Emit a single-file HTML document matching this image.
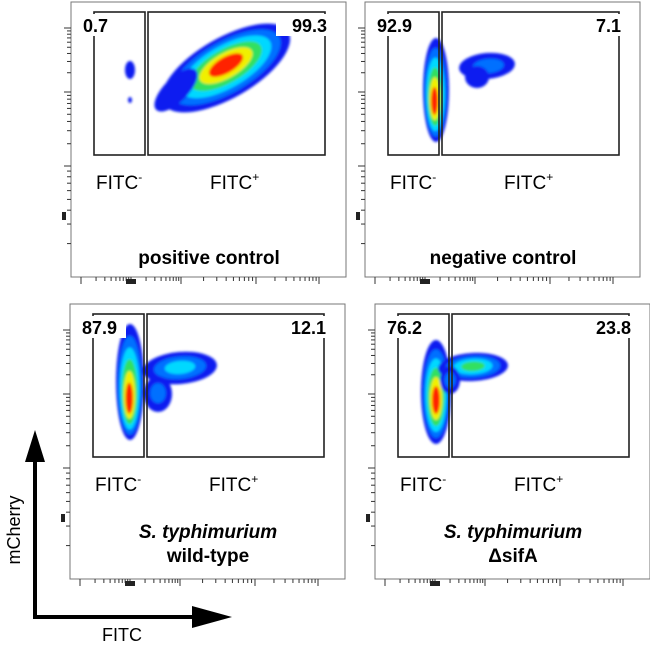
<!DOCTYPE html>
<html><head><meta charset="utf-8">
<style>
body{margin:0;background:#fff;}
svg{display:block;font-family:"Liberation Sans",Arial,sans-serif;}
</style></head>
<body>
<svg id="fig" width="650" height="646" viewBox="0 0 650 646">
<defs>
<filter id="soft" x="-30%" y="-30%" width="160%" height="160%"><feGaussianBlur stdDeviation="1.2"/></filter>
</defs>
<g id="panels"></g>
<g>
 <line x1="35" y1="450" x2="35" y2="617" stroke="#000" stroke-width="4"/>
 <polygon points="35,430 25,462 45,462" fill="#000"/>
 <line x1="33" y1="617" x2="200" y2="617" stroke="#000" stroke-width="4"/>
 <polygon points="232,617 192,606 192,628" fill="#000"/>
 <text x="20" y="530" font-size="18" text-anchor="middle" transform="rotate(-90 20 530)">mCherry</text>
 <text x="122" y="641" font-size="18" text-anchor="middle">FITC</text>
</g>
</svg>
<script>
// panel frames (layout)
const panelX0 = [71, 365, 70, 375];
const panelY0 = [2, 2, 304, 304];
const panelW = 275, panelH = 275;
// data
const panelTitles = [["positive control"], ["negative control"], ["S. typhimurium", "wild-type"], ["S. typhimurium", "\u0394sifA"]];
const negPercent = [0.7, 92.9, 87.9, 76.2];
const posPercent = [99.3, 7.1, 12.1, 23.8];
// populations per panel: [panel, cx, cy, rx, ry, rotationDeg, maxLevel] in panel units (0-275)
const popPanel = [0, 0, 0, 0, 1, 1, 1, 2, 2, 2, 3, 3, 3];
const popCx = [155, 105, 59, 59, 71, 122, 112, 60, 110, 88, 61, 98, 75];
const popCy = [66, 88, 68, 98, 88, 64, 75, 78, 64, 90, 88, 63, 76];
const popRx = [72, 28, 5, 2, 13, 28, 12, 14, 37, 14, 15, 35, 10];
const popRy = [30, 12, 9, 3, 52, 13, 11, 58, 16, 18, 52, 14, 14];
const popRot = [-30, -45, 0, 0, 0, -5, 0, 0, -5, 0, 0, -3, 0];
const popLevel = [5, 0, 0, 0, 5, 1, 0, 5, 2, 1, 5, 3, 1];
const popPeakX = [155, 105, 59, 59, 69, 125, 112, 59, 110, 88, 61, 98, 75];
const popPeakY = [62, 88, 68, 98, 103, 64, 75, 100, 63, 88, 99, 62, 76];

const jet = ["#0a1cf0", "#0070ff", "#00d8ff", "#30e060", "#f0f000", "#ff2000"];
const NS = "http://www.w3.org/2000/svg";
const root = document.getElementById("panels");
function mk(tag, attrs, parent) { const e = document.createElementNS(NS, tag); for (const k in attrs) e.setAttribute(k, attrs[k]); parent.appendChild(e); return e; }
function xs(p, v) { return panelX0[p] + v; }
function ys(p, v) { return panelY0[p] + v; }

for (let p = 0; p < 4; p++) {
  const g = mk("g", {}, root);
  
  
  const X = panelX0[p], Y = panelY0[p];
  const frame = mk("rect", { x: X, y: Y, width: panelW, height: panelH, fill: "#fff", stroke: "#777", "stroke-width": 1 }, g);
  
  
  // ticks
  const tk = mk("g", { stroke: "#333", "stroke-width": 1 }, g);
  
  
  const yMaj = [26, 90, 164, 275];
  for (let i = 0; i < yMaj.length - 1; i++) {
    mk("line", { x1: X - 7, x2: X, y1: Y + yMaj[i], y2: Y + yMaj[i] }, tk);
    for (let m = 2; m < 10; m++) { const yy = Y + yMaj[i + 1] - (yMaj[i + 1] - yMaj[i]) * Math.log10(m); mk("line", { x1: X - 4, x2: X, y1: yy, y2: yy }, tk); }
  }
  mk("rect", { x: X - 9, y: Y + 210, width: 4, height: 8, fill: "#222", stroke: "none" }, tk);
  const xMaj = [10, 60, 110, 185, 248];
  for (let i = 0; i < xMaj.length; i++) mk("line", { x1: X + xMaj[i], x2: X + xMaj[i], y1: Y + panelH, y2: Y + panelH + 7 }, tk);
  for (let i = 0; i < xMaj.length - 1; i++) for (let m = 2; m < 10; m++) { const xx = X + xMaj[i] + (xMaj[i + 1] - xMaj[i]) * Math.log10(m); mk("line", { x1: xx, x2: xx, y1: Y + panelH, y2: Y + panelH + 4 }, tk); }
  mk("rect", { x: X + 55, y: Y + panelH + 2, width: 10, height: 5, fill: "#222", stroke: "none" }, tk);
  // populations
  const pg = mk("g", { filter: "url(#soft)" }, g);
  
  
  for (let i = 0; i < popPanel.length; i++) {
    if (popPanel[i] !== p) continue;
    for (let k = 0; k <= popLevel[i]; k++) {
      const f = 1 - 0.88 * k / (popLevel[i] + 1);
      const cx = popCx[i] + (popPeakX[i] - popCx[i]) * (1 - f);
      const cy = popCy[i] + (popPeakY[i] - popCy[i]) * (1 - f);
      const e = mk("ellipse", { cx: xs(p, cx), cy: ys(p, cy), rx: popRx[i] * f, ry: popRy[i] * f, fill: jet[k], transform: `rotate(${popRot[i]} ${xs(p, cx)} ${ys(p, cy)})` }, pg);
      
      
    }
  }
  // gates
  const gt = mk("g", { fill: "none", stroke: "#222", "stroke-width": 1.6 }, g);
  
  
  const gn = mk("rect", { x: X + 23, y: Y + 10, width: 51, height: 143 }, gt);
  
  
  const gp = mk("rect", { x: X + 77, y: Y + 10, width: 177, height: 143 }, gt);
  
  
  // percent labels
  mk("rect", { x: X + 8, y: Y + 12, width: 48, height: 22, fill: "#fff" }, g);
  const t1 = mk("text", { x: X + 12, y: Y + 30, "font-size": 18, "font-weight": "bold" }, g);
  t1.textContent = negPercent[p].toFixed(1);
  
  
  mk("rect", { x: X + 205, y: Y + 12, width: 52, height: 22, fill: "#fff" }, g);
  const t2 = mk("text", { x: X + 256, y: Y + 30, "font-size": 18, "font-weight": "bold", "text-anchor": "end" }, g);
  t2.textContent = posPercent[p].toFixed(1);
  
  
  // gate names
  const n1 = mk("text", { x: X + 25, y: Y + 187, "font-size": 19 }, g);
  n1.innerHTML = 'FITC<tspan dy="-8" font-size="12">-</tspan>';
  
  
  const n2 = mk("text", { x: X + 139, y: Y + 187, "font-size": 19 }, g);
  n2.innerHTML = 'FITC<tspan dy="-8" font-size="12">+</tspan>';
  
  
  // title
  const tl = panelTitles[p];
  for (let j = 0; j < tl.length; j++) {
    const t = mk("text", { x: X + 138, y: Y + (tl.length === 1 ? 262 : 234 + j * 24), "font-size": 19, "font-weight": "bold", "text-anchor": "middle" }, g);
    if (j === 0 && p >= 2) t.setAttribute("font-style", "italic");
    t.textContent = tl[j];
    
    
  }
}
</script>
</body></html>
